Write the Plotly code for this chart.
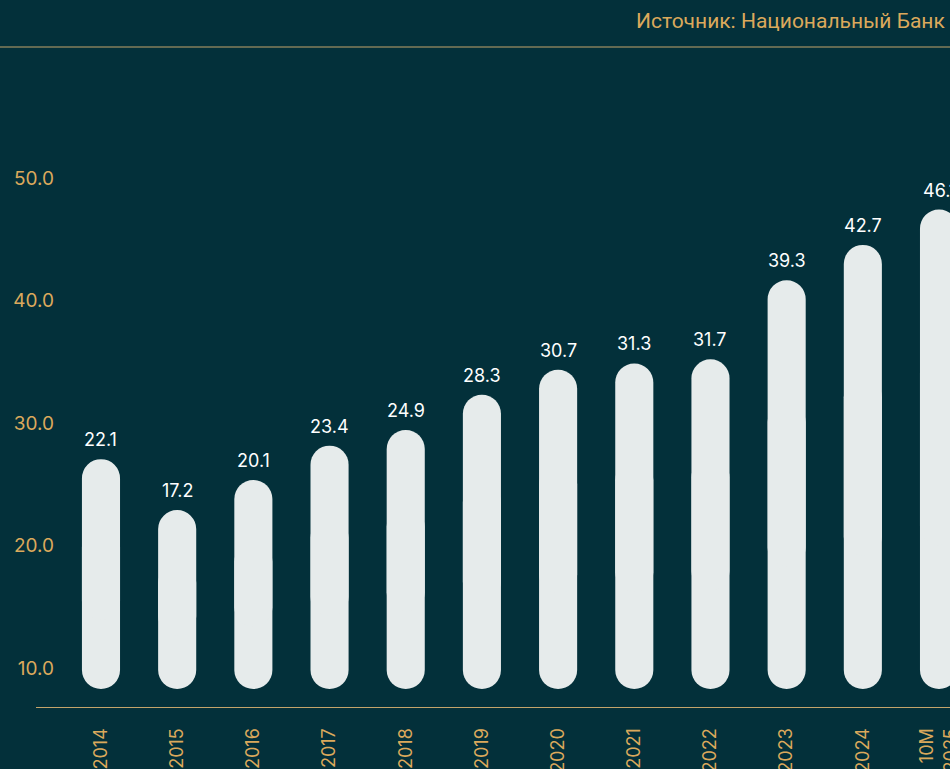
import plotly.graph_objects as go

# data
years = ["2014", "2015", "2016", "2017", "2018", "2019", "2020", "2021", "2022", "2023", "2024", "10M<br>2025"]
values = [22.1, 17.2, 20.1, 23.4, 24.9, 28.3, 30.7, 31.3, 31.7, 39.3, 42.7, 46.1]
value_labels = ["22.1", "17.2", "20.1", "23.4", "24.9", "28.3", "30.7", "31.3", "31.7", "39.3", "42.7", "46.1"]
y_ticks = [10, 20, 30, 40, 50]
y_tick_labels = ["10.0", "20.0", "30.0", "40.0", "50.0"]
source_text = "Источник: Национальный Банк"

BG = "#03303a"
BAR = "#e6ebeb"
GOLD = "#dba95c"
LINE_GOLD = "#c4a46a"
NUM_FONT = "Inter"

positions = list(range(len(years)))

fig = go.Figure()

# pill-shaped bars: lower part rounded at the bottom, upper part rounded at the top
fig.add_trace(
    go.Bar(
        x=positions,
        y=[-v * 0.7 for v in values],
        base=[v * 0.7 for v in values],
        width=0.5,
        marker=dict(color=BAR, line=dict(width=0), cornerradius="50%"),
        yaxis="y2",
        hoverinfo="skip",
        showlegend=False,
    )
)
fig.add_trace(
    go.Bar(
        x=positions,
        y=[v * 0.7 for v in values],
        base=[v * 0.3 for v in values],
        width=0.5,
        marker=dict(color=BAR, line=dict(width=0), cornerradius="50%"),
        yaxis="y2",
        hoverinfo="skip",
        showlegend=False,
    )
)
# empty trace so the tick axis gets its own subplot
fig.add_trace(
    go.Scatter(x=[None], y=[None], yaxis="y", mode="markers", hoverinfo="skip", showlegend=False)
)

for pos, value, label in zip(positions, values, value_labels):
    fig.add_annotation(
        x=pos,
        y=value,
        xref="x",
        yref="y2",
        text=label,
        showarrow=False,
        yanchor="bottom",
        yshift=7,
        font=dict(family=NUM_FONT, size=18, color="#ffffff"),
    )

fig.add_annotation(
    x=1,
    y=(707 - 21) / 557,
    xref="paper",
    yref="paper",
    text=source_text,
    showarrow=False,
    xanchor="right",
    yanchor="middle",
    xshift=-3,
    font=dict(family="Roboto", size=21, color=GOLD),
)

fig.add_shape(
    type="line",
    xref="paper",
    yref="paper",
    x0=0,
    x1=1.0,
    y0=(707 - 47) / 557,
    y1=(707 - 47) / 557,
    line=dict(color=LINE_GOLD, width=1.2),
)

fig.update_layout(
    width=950,
    height=769,
    margin=dict(l=0, r=0, t=150, b=62),
    paper_bgcolor=BG,
    plot_bgcolor=BG,
    barmode="overlay",
    showlegend=False,
    xaxis=dict(
        domain=[36 / 950, 1],
        range=[-0.853, 11.144],
        tickvals=positions,
        ticktext=years,
        showgrid=False,
        zeroline=False,
        showline=True,
        linecolor=LINE_GOLD,
        linewidth=1,
        ticks="outside",
        ticklen=13,
        tickcolor="rgba(0,0,0,0)",
        tickangle=-90,
        automargin=False,
        ticklabeloverflow="allow",
        tickfont=dict(family=NUM_FONT, size=18, color=GOLD),
    ),
    yaxis=dict(
        anchor="free",
        position=54 / 950,
        range=[10 - 39 / 12.25, 50 + 28 / 12.25],
        tickvals=y_ticks,
        ticktext=y_tick_labels,
        ticks="",
        showgrid=False,
        zeroline=False,
        showline=False,
        automargin=False,
        ticklabeloverflow="allow",
        tickfont=dict(family=NUM_FONT, size=19, color=GOLD),
    ),
    yaxis2=dict(
        overlaying="y",
        anchor="x",
        range=[-18 / 10.4, 539 / 10.4],
        visible=False,
    ),
)

fig.write_html(
    "out.html",
    config={"displayModeBar": False},
    post_script="document.body.style.margin='0';",
)
